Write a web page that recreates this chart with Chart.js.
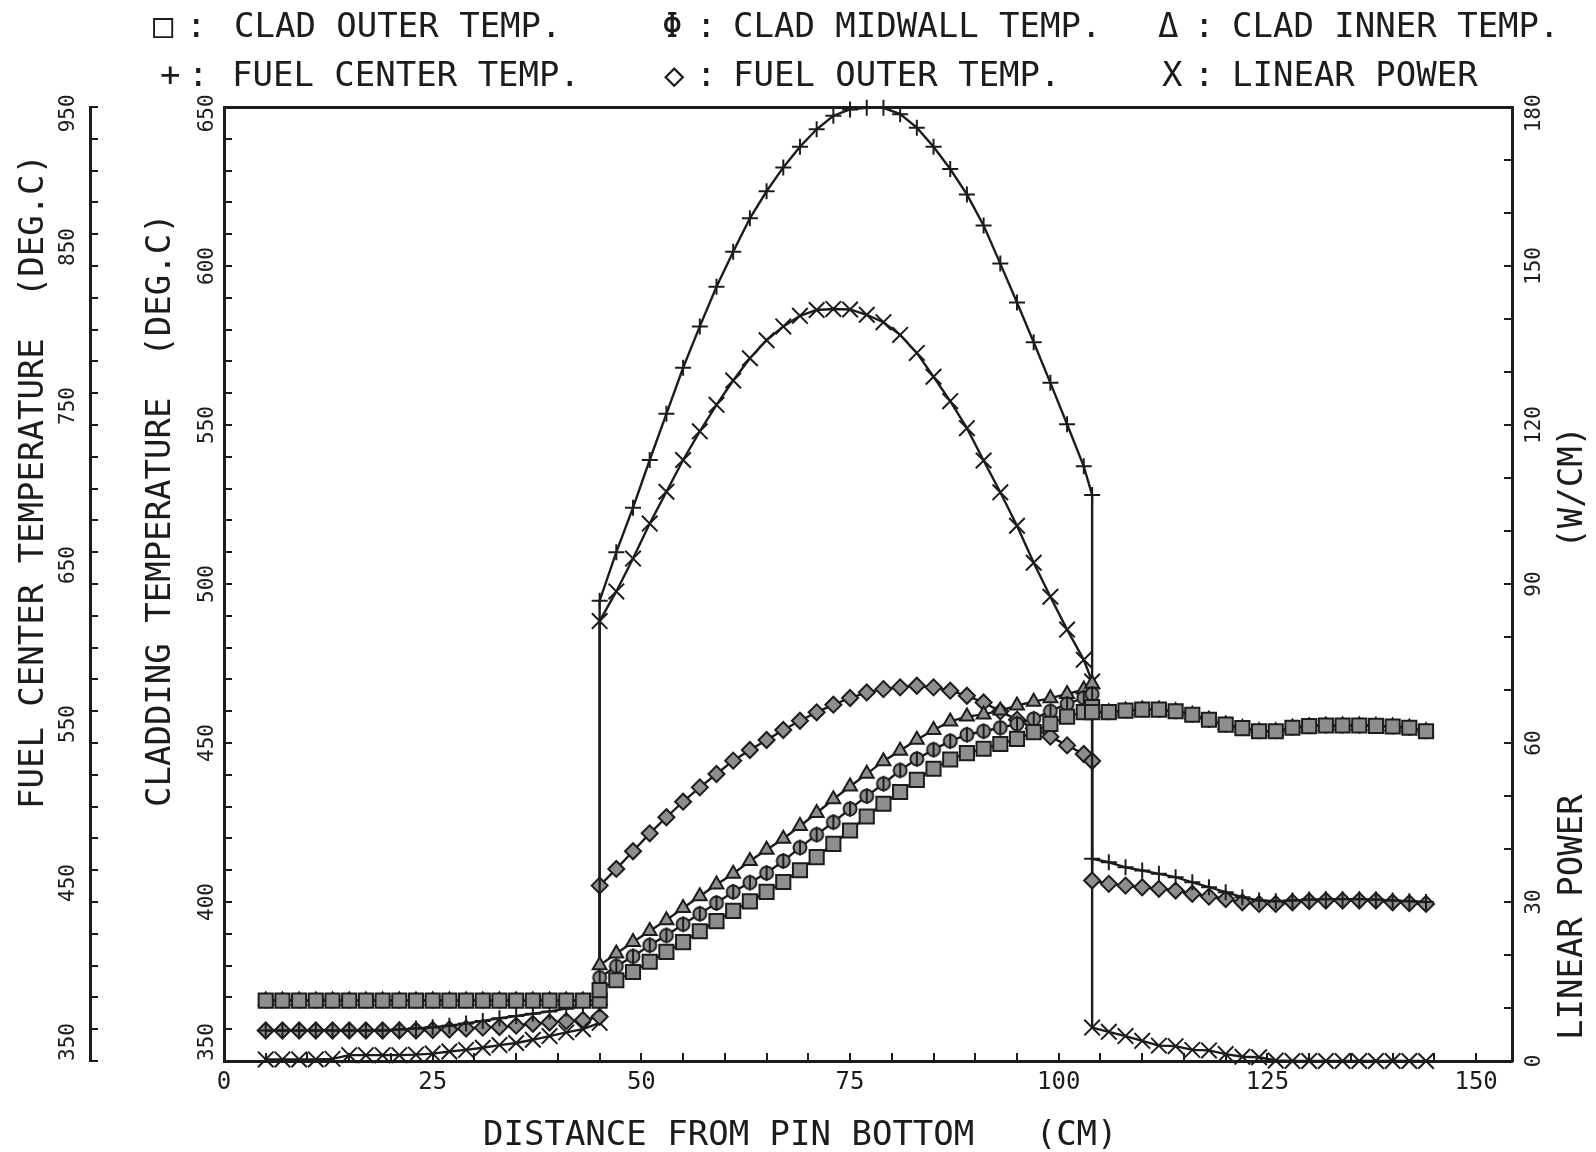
<!DOCTYPE html>
<html>
<head>
<meta charset="utf-8">
<script src="https://cdn.jsdelivr.net/npm/chart.js@4.4.0/dist/chart.umd.min.js"></script>
<style>
html,body{margin:0;padding:0;background:#fff;}
#wrap{position:relative;width:1596px;height:1152px;overflow:hidden;background:#fff;}
#c{position:absolute;left:0;top:0;}
.t{position:absolute;font-family:"DejaVu Sans Mono",monospace;font-size:34px;line-height:34px;color:#1c1c1c;white-space:pre;}
.rot{transform-origin:0 0;transform:rotate(-90deg);}
</style>
</head>
<body>
<div id="wrap">
<canvas id="c" width="1596" height="1152" style="width:1596px;height:1152px"></canvas>

<div class="t" style="left:153px;top:8px">□</div>
<div class="t" style="left:186px;top:8px">:</div>
<div class="t" style="left:234px;top:8px">CLAD OUTER TEMP.</div>
<div class="t" style="left:662px;top:8px">Φ</div>
<div class="t" style="left:696px;top:8px">:</div>
<div class="t" style="left:733px;top:8px">CLAD MIDWALL TEMP.</div>
<div class="t" style="left:1158px;top:8px">Δ</div>
<div class="t" style="left:1194px;top:8px">:</div>
<div class="t" style="left:1232px;top:8px">CLAD INNER TEMP.</div>

<div class="t" style="left:160px;top:57px">+</div>
<div class="t" style="left:188px;top:57px">:</div>
<div class="t" style="left:232px;top:57px">FUEL CENTER TEMP.</div>
<div class="t" style="left:664px;top:57px">◇</div>
<div class="t" style="left:696px;top:57px">:</div>
<div class="t" style="left:733px;top:57px">FUEL OUTER TEMP.</div>
<div class="t" style="left:1162px;top:57px">X</div>
<div class="t" style="left:1194px;top:57px">:</div>
<div class="t" style="left:1232px;top:57px">LINEAR POWER</div>

<div class="t" style="left:483px;top:1116px">DISTANCE FROM PIN BOTTOM   (CM)</div>
<div class="t rot" style="left:14px;top:809px">FUEL CENTER TEMPERATURE  (DEG.C)</div>
<div class="t rot" style="left:141px;top:807px">CLADDING TEMPERATURE  (DEG.C)</div>
<div class="t rot" style="left:1553px;top:1040px">LINEAR POWER            (W/CM)</div>
</div>

<script>
// ---------------- DATA ----------------
// axial positions (cm); 45 and 104 appear twice (bottom / top of the fuel column)
const positions = [
  5,7,9,11,13,15,17,19,21,23,25,27,29,31,33,35,37,39,41,43,45,
  45,47,49,51,53,55,57,59,61,63,65,67,69,71,73,75,77,79,81,83,85,87,89,91,93,95,97,99,101,103,104,
  104,106,108,110,112,114,116,118,120,122,124,126,128,130,132,134,136,138,140,142,144
];

// cladding temperatures (deg C, cladding axis)
const cladOuter = [
  369,369,369,369,369,369,369,369,369,369,369,369,369,369,369,369,369,369,369,369,369,
  372.3,375.4,378.0,381.2,384.3,387.4,390.8,394.0,397.2,400.2,403.2,406.3,410.0,414.1,418.3,422.5,426.9,430.9,434.6,438.4,441.9,444.8,446.8,448.2,449.7,451.3,453.4,456.0,458.3,459.7,461.3,
  459.7,459.7,460.2,460.5,460.5,460.0,458.9,457.3,455.8,454.7,453.7,453.7,454.8,455.3,455.5,455.5,455.5,455.4,455.2,454.8,453.7
];
const cladMidwall = [
  369,369,369,369,369,369,369,369,369,369,369,369,369,369,369,369,369,369,369,369,369,
  376.2,379.8,382.9,386.4,389.5,393.0,396.3,399.7,403.2,406.1,409.1,412.9,417.1,421.2,425.1,429.3,433.3,437.2,441.4,445.0,447.9,450.6,452.6,453.7,454.8,456.0,457.6,460.0,462.3,464.2,465.4,
  459.7,459.7,460.2,460.5,460.5,460.0,458.9,457.3,455.8,454.7,453.7,453.7,454.8,455.3,455.5,455.5,455.5,455.4,455.2,454.8,453.7
];
const cladInner = [
  369,369,369,369,369,369,369,369,369,369,369,369,369,369,369,369,369,369,369,369,369,
  380.1,383.8,387.4,390.9,394.3,398.1,401.8,405.5,408.9,412.9,416.4,419.9,423.9,428.0,432.3,436.3,440.3,444.3,447.6,451.0,454.1,456.8,458.3,459.0,460.2,461.8,463.0,464.1,465.4,466.8,468.6,
  459.7,459.7,460.2,460.5,460.5,460.0,458.9,457.3,455.8,454.7,453.7,453.7,454.8,455.3,455.5,455.5,455.5,455.4,455.2,454.8,453.7
];

// fuel temperatures (deg C, fuel center axis)
const fuelCenter = [
  369.2,369.2,369.2,369.2,369.2,369.2,369.2,369.2,369.8,370.5,371.2,372.2,373.6,375.2,376.9,378.3,379.7,381.2,382.9,384.5,385.7,
  639.5,670,698,728,757,786,812,837,859,880,897,912,925,936,944.5,948.5,949.5,949.5,945.5,937,925,911,895,875.5,851.5,827,802,776.5,750.5,724,706,
  477.2,475.0,471.8,469.8,467.7,465.6,462.4,459.3,456.2,453.0,450.9,450.5,451.0,451.5,451.8,451.8,451.8,451.5,451.0,450.5,450.0
];
const fuelOuter = [
  369.2,369.2,369.2,369.2,369.2,369.2,369.2,369.2,369.2,369.2,369.5,369.8,370.4,371.0,371.4,372.2,373.4,374.2,375.1,375.8,377.8,
  460.3,470.8,481.9,493.2,503.3,513.1,522.1,530.5,538.9,545.6,551.9,558.2,564.0,569.3,574.1,578.3,581.8,583.9,585.0,586.0,585.0,582.9,579.7,575.5,569.9,564.7,559.2,554.0,548.5,543.1,538.7,
  463.5,461.4,460.3,459.3,458.3,457.2,455.2,453.4,451.9,449.8,448.8,448.8,449.8,450.5,450.9,450.9,450.9,450.9,449.8,449.3,448.8
];

// linear power (W/cm, right axis)
const linearPower = [
  0.3,0.3,0.3,0.3,0.4,1.1,1.1,1.1,1.1,1.2,1.4,1.8,2.1,2.5,3.0,3.4,4.0,4.7,5.4,6.0,7.2,
  83,88.6,94.8,101.4,107.4,113.4,118.8,123.8,128.4,132.6,136,138.6,140.6,141.7,141.9,141.8,140.8,139.4,137,133.6,129.1,124.5,119.4,113.3,107.3,101,94,87.6,81.4,75.7,71.6,
  6.3,5.5,4.7,3.8,2.9,2.8,2.1,2.0,1.3,0.8,0.7,0.1,0,0,0,0,0,0,0,0,0
];

// labelled tick values
const xTickLabels = [0,25,50,75,100,125,150];
const cladTickLabels = [350,400,450,500,550,600,650];
const fuelTickLabels = [350,450,550,650,750,850,950];
const powerTickLabels = [0,30,60,90,120,150,180];

// ---------------- STYLE ----------------
const INK = '#1c1c1c';
const FILL = '#8e8e8e';
const FONT = "'DejaVu Sans Mono', monospace";

function midwallMarker() {
  const c = document.createElement('canvas');
  c.width = 18; c.height = 18;
  const g = c.getContext('2d');
  g.beginPath(); g.arc(9, 9, 6.5, 0, Math.PI * 2);
  g.fillStyle = FILL; g.fill();
  g.lineWidth = 2; g.strokeStyle = INK; g.stroke();
  g.beginPath(); g.moveTo(9, 1); g.lineTo(9, 17); g.stroke();
  return c;
}

const pts = ys => positions.map((x, i) => ({ x: x, y: ys[i] }));

function series(label, ys, axis, style, radius, fill) {
  return {
    label: label, data: pts(ys), yAxisID: axis,
    borderColor: INK, borderWidth: 2.4, tension: 0, fill: false, clip: false,
    pointStyle: style, pointRadius: radius,
    pointBackgroundColor: fill ? FILL : 'rgba(0,0,0,0)',
    pointBorderColor: INK, pointBorderWidth: 2
  };
}

const datasets = [
  series('CLAD OUTER TEMP.', cladOuter, 'yClad', 'rect', 10, true),
  series('CLAD MIDWALL TEMP.', cladMidwall, 'yClad', midwallMarker(), 8, true),
  series('CLAD INNER TEMP.', cladInner, 'yClad', 'triangle', 8, true),
  series('FUEL CENTER TEMP.', fuelCenter, 'yFuel', 'cross', 8, false),
  series('FUEL OUTER TEMP.', fuelOuter, 'yFuel', 'rectRot', 8, true),
  series('LINEAR POWER', linearPower, 'yPower', 'crossRot', 11, false)
];

const xFont = { family: FONT, size: 24 };
const yFont = { family: FONT, size: 21 };
const gridOpts = { drawOnChartArea: false, drawTicks: true, tickLength: -8, color: INK, lineWidth: 2 };
const borderOpts = { display: true, color: INK, width: 3 };

// labels are nudged along the rotated text direction with blank characters,
// the way the plotter offset the end labels
const up = s => '   ' + s;
const down = s => s + ' ';
const xLabel = v => xTickLabels.includes(v) ? String(v) : '';
const cladLabel = v => !cladTickLabels.includes(v) ? '' : v === 650 ? down('650') : v === 350 ? up('350') : String(v);
const fuelLabel = v => !fuelTickLabels.includes(v) ? '' : v === 950 ? down('950') : up(String(v));
const powerLabel = v => !powerTickLabels.includes(v) ? '' : v === 180 ? down('180') : String(v);

new Chart(document.getElementById('c'), {
  type: 'line',
  data: { datasets: datasets },
  options: {
    responsive: false, animation: false, devicePixelRatio: 1,
    layout: { padding: { left: 50, top: 107, right: 0, bottom: 0 } },
    plugins: { legend: { display: false }, title: { display: false }, tooltip: { enabled: false } },
    scales: {
      x: {
        type: 'linear', position: 'bottom', min: 0, max: 154.3, bounds: 'data',
        afterFit: s => { s.height = 91; },
        grid: gridOpts, border: borderOpts,
        ticks: { stepSize: 5, includeBounds: false, autoSkip: false, minRotation: 0, maxRotation: 0,
                 padding: 15, color: INK, font: xFont, callback: xLabel }
      },
      xTop: {
        type: 'linear', position: 'top', min: 0, max: 154.3, bounds: 'data',
        afterFit: s => { s.height = 0; },
        grid: { drawOnChartArea: false, drawTicks: false },
        border: borderOpts,
        ticks: { display: false }
      },
      yClad: {
        type: 'linear', position: 'left', min: 350, max: 650, weight: 0,
        afterFit: s => { s.width = 134; },
        grid: gridOpts, border: borderOpts,
        ticks: { stepSize: 10, autoSkip: false, minRotation: 90, maxRotation: 90, crossAlign: 'center',
                 padding: -13.5, color: INK, font: yFont, callback: cladLabel }
      },
      yFuel: {
        type: 'linear', position: 'left', min: 350, max: 950, weight: 10,
        afterFit: s => { s.width = 40; },
        grid: gridOpts, border: borderOpts,
        ticks: { stepSize: 20, autoSkip: false, minRotation: 90, maxRotation: 90, crossAlign: 'center',
                 padding: -8.6, color: INK, font: yFont, callback: fuelLabel }
      },
      yPower: {
        type: 'linear', position: 'right', min: 0, max: 180, weight: 0,
        afterFit: s => { s.width = 84; },
        grid: gridOpts, border: borderOpts,
        ticks: { stepSize: 10, autoSkip: false, minRotation: 90, maxRotation: 90, crossAlign: 'center',
                 padding: 5.7, color: INK, font: yFont, callback: powerLabel }
      }
    }
  }
});
</script>
</body>
</html>
